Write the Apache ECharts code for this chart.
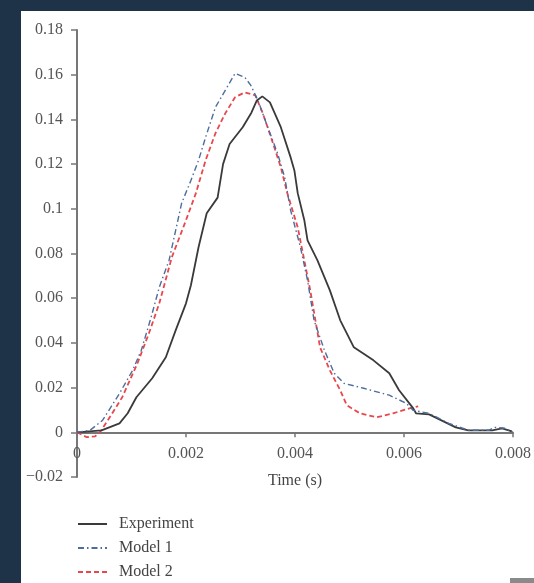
<!DOCTYPE html>
<html>
<head>
<meta charset="utf-8">
<script src="https://cdn.jsdelivr.net/npm/echarts@6/dist/echarts.min.js"></script>
<style>
html,body{margin:0;padding:0;background:#1f3348;}
#chart{width:534px;height:583px;}
</style>
</head>
<body>
<div id="chart"></div>
<script>
// ---- data (time in s, value) ----
var seriesNames = ['Experiment', 'Model 1', 'Model 2'];

var expX = [0, 0.00045, 0.00078, 0.00093, 0.00109, 0.00138, 0.00163, 0.00181, 0.0020, 0.00209, 0.00223, 0.00238, 0.00258, 0.00268, 0.00280, 0.00304, 0.00320, 0.00330, 0.00340, 0.00354, 0.00374, 0.00392, 0.00399, 0.00405, 0.00417, 0.00423, 0.00441, 0.00464, 0.00483, 0.00508, 0.00544, 0.00573, 0.00591, 0.00617, 0.00622, 0.00646, 0.00695, 0.00718, 0.00762, 0.0078, 0.00798];
var expY = [0, 0.0009, 0.0040, 0.0085, 0.0157, 0.0242, 0.0336, 0.0456, 0.0577, 0.0658, 0.0828, 0.0980, 0.1050, 0.1200, 0.1290, 0.1365, 0.1430, 0.1485, 0.1503, 0.1476, 0.1365, 0.1230, 0.1170, 0.1070, 0.0950, 0.0859, 0.0770, 0.0635, 0.0501, 0.0380, 0.0322, 0.0264, 0.0188, 0.0107, 0.0085, 0.0080, 0.0022, 0.0009, 0.0009, 0.0018, 0.0004];

var m1X = [0, 0.00024, 0.00047, 0.00078, 0.00102, 0.00118, 0.00136, 0.00151, 0.00169, 0.00192, 0.00209, 0.00223, 0.00236, 0.00254, 0.00272, 0.0029, 0.00308, 0.00319, 0.00332, 0.0035, 0.00368, 0.00381, 0.00392, 0.0041, 0.00423, 0.00435, 0.00454, 0.00472, 0.0049, 0.00526, 0.00573, 0.00604, 0.00617, 0.00646, 0.00682, 0.00718, 0.00755, 0.00767, 0.00785, 0.0080];
var m1Y = [0, 0.0009, 0.0054, 0.0174, 0.0277, 0.0367, 0.0515, 0.0649, 0.0770, 0.1025, 0.1127, 0.1217, 0.1320, 0.1454, 0.1530, 0.1606, 0.1588, 0.1552, 0.1485, 0.1365, 0.1248, 0.1141, 0.0993, 0.0828, 0.0680, 0.0501, 0.0367, 0.0264, 0.0219, 0.0197, 0.0166, 0.0130, 0.0098, 0.0085, 0.0040, 0.0009, 0.0009, 0.0022, 0.0018, 0];

var m2X = [0, 0.00018, 0.00033, 0.00042, 0.0006, 0.00083, 0.00111, 0.00132, 0.00151, 0.00174, 0.0020, 0.00218, 0.00236, 0.00254, 0.00272, 0.0029, 0.00308, 0.00327, 0.00341, 0.00356, 0.00374, 0.00386, 0.00405, 0.00417, 0.00428, 0.00446, 0.00464, 0.00483, 0.00495, 0.00519, 0.0055, 0.0058, 0.0061, 0.00626];
var m2Y = [0, -0.0022, -0.0018, 0, 0.0067, 0.0157, 0.0309, 0.0443, 0.0577, 0.0783, 0.0949, 0.1069, 0.1217, 0.1338, 0.1427, 0.1499, 0.1521, 0.1508, 0.1427, 0.1320, 0.1186, 0.1069, 0.0917, 0.0770, 0.0635, 0.0380, 0.0277, 0.0188, 0.0121, 0.0085, 0.0067, 0.0085, 0.0107, 0.0116];

var xTickLabels = ['0', '0.002', '0.004', '0.006', '0.008'];
var yTickLabels = ['\u22120.02', '0', '0.02', '0.04', '0.06', '0.08', '0.1', '0.12', '0.14', '0.16', '0.18'];

function zip(xs, ys) { return xs.map(function (x, i) { return [x, ys[i]]; }); }

var FONT = 'Liberation Serif';
var chart = echarts.init(document.getElementById('chart'), null, { renderer: 'canvas' });
chart.setOption({
  backgroundColor: '#1f3348',
  animation: false,
  graphic: [
    { type: 'rect', z: -10, shape: { x: 21, y: 11, width: 513, height: 572 }, style: { fill: '#ffffff' } },
    { type: 'rect', z: -9, shape: { x: 510, y: 578, width: 24, height: 5 }, style: { fill: '#8a8a8a' } }
  ],
  grid: { left: 77, right: 16, top: 30, bottom: 106, containLabel: false },
  xAxis: {
    type: 'value', min: 0, max: 0.008, interval: 0.002,
    name: 'Time (s)', nameLocation: 'middle', nameGap: -4, nameMoveOverlap: false,
    nameTextStyle: { fontFamily: FONT, fontSize: 16, color: '#444' },
    axisLine: { onZero: true, lineStyle: { color: '#777', width: 2 } },
    axisTick: { show: true, length: 5, lineStyle: { color: '#777', width: 1.5 } },
    axisLabel: {
      margin: -31, fontFamily: FONT, fontSize: 16, color: '#555',
      formatter: function (v) { return xTickLabels[Math.round(v / 0.002)]; }
    },
    splitLine: { show: false }
  },
  yAxis: {
    type: 'value', min: -0.02, max: 0.18, interval: 0.02,
    axisLine: { show: true, onZero: false, lineStyle: { color: '#777', width: 2 } },
    axisTick: { show: true, length: 6, lineStyle: { color: '#777', width: 1.5 } },
    axisLabel: {
      margin: 14, fontFamily: FONT, fontSize: 16, color: '#555',
      formatter: function (v) { return yTickLabels[Math.round((v + 0.02) / 0.02)]; }
    },
    splitLine: { show: false }
  },
  legend: {
    orient: 'vertical', left: 77, top: 516, height: 70, padding: 0,
    itemWidth: 29, itemHeight: 14, itemGap: 8,
    itemStyle: { opacity: 0 },
    textStyle: { fontFamily: FONT, fontSize: 16, color: '#444', padding: [0, 0, 0, 7] },
    data: seriesNames
  },
  series: [
    {
      name: seriesNames[0], type: 'line', data: zip(expX, expY), symbol: 'none',
      lineStyle: { color: '#3a3a3a', width: 1.8, type: 'solid' }, itemStyle: { color: '#3a3a3a' }, z: 3
    },
    {
      name: seriesNames[1], type: 'line', data: zip(m1X, m1Y), symbol: 'none',
      lineStyle: { color: '#4d6d9c', width: 1.4, type: [6, 3, 1.5, 3] }, itemStyle: { color: '#4d6d9c' }, z: 4
    },
    {
      name: seriesNames[2], type: 'line', data: zip(m2X, m2Y), symbol: 'none',
      lineStyle: { color: '#e8474c', width: 1.8, type: [5, 3] }, itemStyle: { color: '#e8474c' }, z: 2
    }
  ]
});
</script>
</body>
</html>
